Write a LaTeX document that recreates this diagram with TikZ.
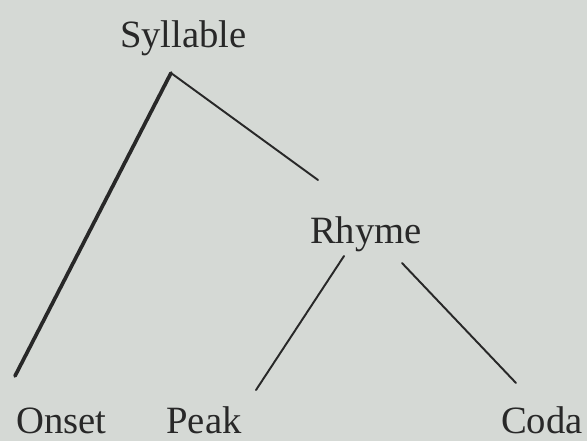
\documentclass[tikz,border=0pt]{standalone}
\usepackage{fontspec}
\setmainfont{Liberation Serif}
\usetikzlibrary{positioning}
\definecolor{paper}{RGB}{213,217,213}
\definecolor{ink}{RGB}{40,40,40}

\begin{document}
\begin{tikzpicture}[line cap=round, line join=round, x=0.02cm, y=-0.02cm]
  \tikzset{
    label/.style={inner sep=0pt, text=ink, font=\fontsize{22pt}{26pt}\selectfont},
    branch/.style={line width=1.1pt, draw=ink},
    heavy/.style={line width=2.1pt, draw=ink}
  }
  % papier
  \fill[paper] (0,0) rectangle (587,441);
  \useasboundingbox (0,0) rectangle (587,441);

  % knopen
  \node[label, anchor=base] (syllable) at (183.5,47) {Syllable};
  \node[label, anchor=base] (rhyme) at (366,243) {Rhyme};
  \node[label, anchor=base west] (onset) at (16,433) {Onset};
  \node[label, anchor=base west] (peak) at (166,433) {Peak};
  \node[label, anchor=base east] (coda) at (583,433) {Coda};

  % takpunten
  \coordinate (s-top) at (171,73);
  \coordinate (r-in) at (318,180);
  \coordinate (r-left) at (344,256);
  \coordinate (r-right) at (402,263);
  \coordinate (o-end) at (15,376);
  \coordinate (p-end) at (256,390);
  \coordinate (c-end) at (516,383);

  \draw[heavy] (s-top) -- (o-end);
  \draw[branch] (s-top) -- (r-in);
  \draw[branch] (r-left) -- (p-end);
  \draw[branch] (r-right) -- (c-end);
\end{tikzpicture}
\end{document}
